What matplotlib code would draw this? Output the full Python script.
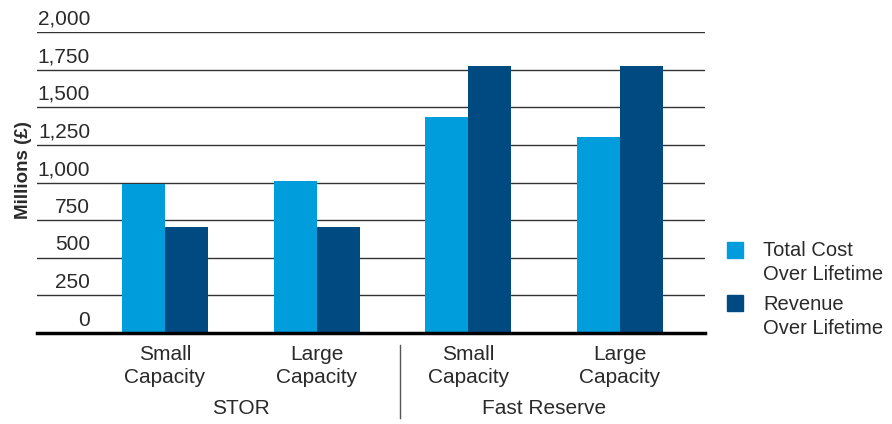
import numpy as np
import matplotlib
matplotlib.use("Agg")
import matplotlib.pyplot as plt
from matplotlib.patches import Rectangle
import matplotlib.transforms as mtransforms

plt.rcParams["font.family"] = ["Liberation Sans", "DejaVu Sans"]

# ─── data ────────────────────────────────────────────────────────────────────
categories = ["Small\nCapacity", "Large\nCapacity", "Small\nCapacity", "Large\nCapacity"]
groups = ["STOR", "Fast Reserve"]
total_cost = [990, 1012, 1438, 1302]
revenue = [702, 702, 1772, 1772]
series_labels = ["Total Cost\nOver Lifetime", "Revenue\nOver Lifetime"]
yticks = [0, 250, 500, 750, 1000, 1250, 1500, 1750, 2000]

C_COST = "#009ddc"
C_REV = "#004a82"
TXT = "#2a2a2a"
FS = 15
W, H = 892, 424

fig = plt.figure(figsize=(8.92, 4.24), dpi=100)
ax = fig.add_axes([37 / W, 1 - 333 / H, (705 - 37) / W, (333 - 32) / H])

x = np.arange(len(categories))
w = 0.283
ax.bar(x - w / 2, total_cost, w, color=C_COST, zorder=3)
ax.bar(x + w / 2, revenue, w, color=C_REV, zorder=3)

ax.set_xlim(-0.844, 3.56)
ax.set_ylim(0, 2000)

# gridlines + labels sitting above them
for v in yticks[1:]:
    ax.axhline(v, color="#333333", lw=1.0, zorder=1)
for v in yticks:
    ax.text(-0.494, v + 22, f"{v:,}", ha="right", va="bottom", fontsize=FS, color=TXT)

for s in ["top", "right", "left"]:
    ax.spines[s].set_visible(False)
ax.spines["bottom"].set_linewidth(2.5)
ax.spines["bottom"].set_color("black")
ax.spines["bottom"].set_zorder(4)
ax.set_yticks([])
ax.set_xticks(x)
ax.set_xticklabels(categories, fontsize=FS, color=TXT, linespacing=1.25)
ax.tick_params(axis="x", length=0, pad=9)

ax.set_ylabel("Millions (£)", fontsize=13.5, fontweight="bold", color=TXT)
ax.yaxis.set_label_coords(-0.008, 0.54)

# group labels and divider
trans = mtransforms.blended_transform_factory(ax.transData, ax.transAxes)
ax.text(0.5, -0.25, groups[0], transform=trans, ha="center", va="center", fontsize=FS, color=TXT)
ax.text(2.5, -0.25, groups[1], transform=trans, ha="center", va="center", fontsize=FS, color=TXT)
ax.plot([1.55, 1.55], [-0.04, -0.282], transform=trans, color="#555555", lw=1, clip_on=False)

# legend: square aligned with the first line of each label
for (top, base), col, lab in zip([(242, 256), (295, 310)], [C_COST, C_REV], series_labels):
    fig.add_artist(Rectangle((727 / W, 1 - (top + 16) / H), 16 / W, 16 / H,
                             transform=fig.transFigure, color=col))
    for i, line in enumerate(lab.split("\n")):
        fig.text(763 / W, 1 - (base + 24 * i) / H, line, ha="left", va="baseline",
                 fontsize=14.5, color=TXT)

fig.savefig("out.png", dpi=100)
